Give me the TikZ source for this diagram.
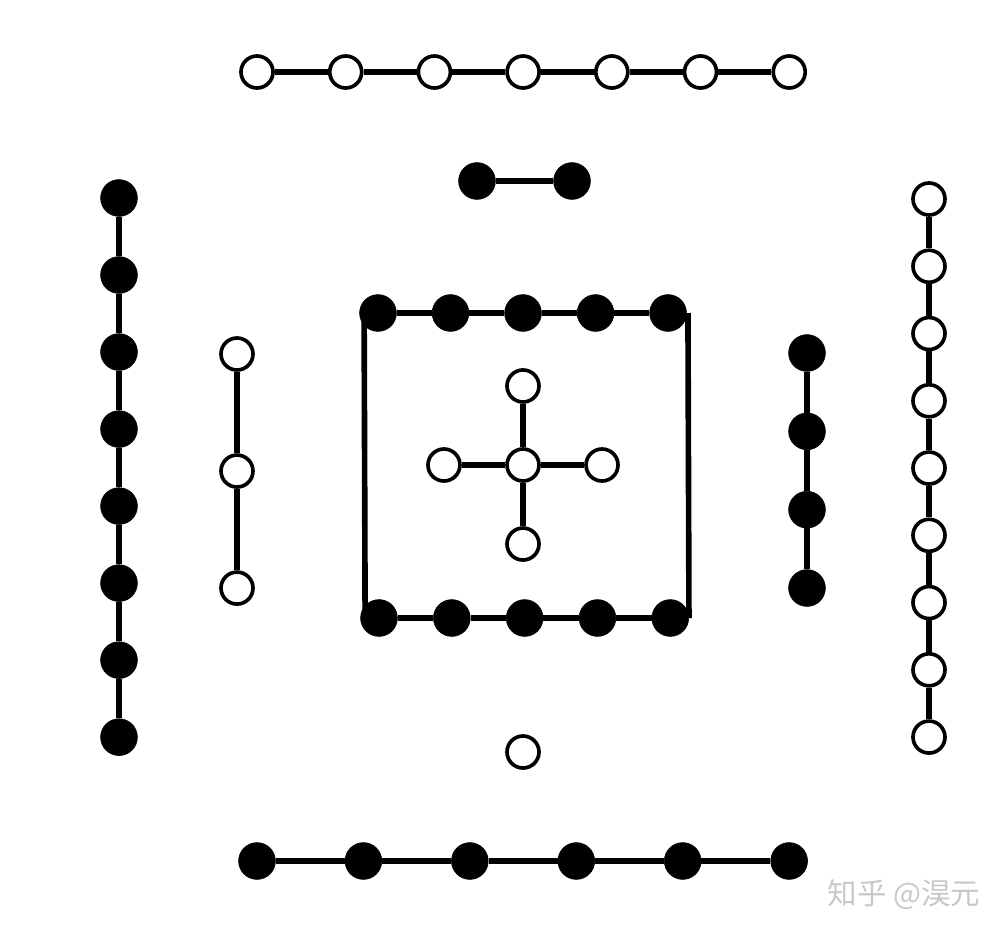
\documentclass[tikz,border=0pt]{standalone}
\usepackage{fontspec}
\usepackage{tikz}
\usetikzlibrary{calc, positioning}
\newfontfamily\zhfont{Noto Sans CJK SC}
\definecolor{mark}{RGB}{200,200,200}
\tikzstyle{yang}=[circle, draw, line width=2.6pt, fill=white, minimum size=0.8cm, inner sep=0pt]
\tikzstyle{yin}=[circle, draw, line width=0.4pt, fill=black, minimum size=0.92cm, inner sep=0pt]
\tikzstyle{link}=[line width=4pt]

\begin{document}
\begin{tikzpicture}[x=0.025cm,y=-0.025cm]
        \useasboundingbox (0,0) rectangle (1008,936);
        % top: seven white, two black
        \node [yang] (seven1) at (257,72) {};
        \node [yang] (seven2) [right of=seven1, node distance=2.217cm] {};
        \node [yang] (seven3) [right of=seven2, node distance=2.217cm] {};
        \node [yang] (seven4) [right of=seven3, node distance=2.217cm] {};
        \node [yang] (seven5) [right of=seven4, node distance=2.217cm] {};
        \node [yang] (seven6) [right of=seven5, node distance=2.217cm] {};
        \node [yang] (seven7) [right of=seven6, node distance=2.217cm] {};
        \node [yin] (two1) at (477,181) {};
        \node [yin] (two2) [right of=two1, node distance=2.375cm] {};
        \draw[link] (seven1) -- (seven2) -- (seven3) -- (seven4) -- (seven5) -- (seven6) -- (seven7);
        \draw[link] (two1) -- (two2);
        % left: eight black, three white
        \node [yin] (eight1) at (119,198) {};
        \node [yin] (eight2) [below of=eight1, node distance=1.925cm] {};
        \node [yin] (eight3) [below of=eight2, node distance=1.925cm] {};
        \node [yin] (eight4) [below of=eight3, node distance=1.925cm] {};
        \node [yin] (eight5) [below of=eight4, node distance=1.925cm] {};
        \node [yin] (eight6) [below of=eight5, node distance=1.925cm] {};
        \node [yin] (eight7) [below of=eight6, node distance=1.925cm] {};
        \node [yin] (eight8) [below of=eight7, node distance=1.925cm] {};
        \node [yang] (three1) at (237,354) {};
        \node [yang] (three2) [below of=three1, node distance=2.925cm] {};
        \node [yang] (three3) [below of=three2, node distance=2.925cm] {};
        \draw[link] (eight1) -- (eight2) -- (eight3) -- (eight4) -- (eight5) -- (eight6) -- (eight7) -- (eight8);
        \draw[link] (three1) -- (three2) -- (three3);
        % right: four black, nine white
        \node [yin] (four1) at (807,353) {};
        \node [yin] (four2) [below of=four1, node distance=1.958cm] {};
        \node [yin] (four3) [below of=four2, node distance=1.958cm] {};
        \node [yin] (four4) [below of=four3, node distance=1.958cm] {};
        \node [yang] (nine1) at (929,199) {};
        \node [yang] (nine2) [below of=nine1, node distance=1.681cm] {};
        \node [yang] (nine3) [below of=nine2, node distance=1.681cm] {};
        \node [yang] (nine4) [below of=nine3, node distance=1.681cm] {};
        \node [yang] (nine5) [below of=nine4, node distance=1.681cm] {};
        \node [yang] (nine6) [below of=nine5, node distance=1.681cm] {};
        \node [yang] (nine7) [below of=nine6, node distance=1.681cm] {};
        \node [yang] (nine8) [below of=nine7, node distance=1.681cm] {};
        \node [yang] (nine9) [below of=nine8, node distance=1.681cm] {};
        \draw[link] (four1) -- (four2) -- (four3) -- (four4);
        \draw[link] (nine1) -- (nine2) -- (nine3) -- (nine4) -- (nine5) -- (nine6) -- (nine7) -- (nine8) -- (nine9);
        % centre: five white, ten black
        \node [yang] (five) at (523,465) {};
        \node [yang] (fiveN) [above of=five, node distance=1.975cm] {};
        \node [yang] (fiveS) [below of=five, node distance=1.975cm] {};
        \node [yang] (fiveW) [left of=five, node distance=1.975cm] {};
        \node [yang] (fiveE) [right of=five, node distance=1.975cm] {};
        \draw[link] (fiveN) -- (five) -- (fiveS);
        \draw[link] (fiveW) -- (five) -- (fiveE);
        \node [yin] (tenA1) at (378,313) {};
        \node [yin] (tenA2) [right of=tenA1, node distance=1.8125cm] {};
        \node [yin] (tenA3) [right of=tenA2, node distance=1.8125cm] {};
        \node [yin] (tenA4) [right of=tenA3, node distance=1.8125cm] {};
        \node [yin] (tenA5) [right of=tenA4, node distance=1.8125cm] {};
        \node [yin] (tenB1) at (379,618) {};
        \node [yin] (tenB2) [right of=tenB1, node distance=1.82cm] {};
        \node [yin] (tenB3) [right of=tenB2, node distance=1.82cm] {};
        \node [yin] (tenB4) [right of=tenB3, node distance=1.82cm] {};
        \node [yin] (tenB5) [right of=tenB4, node distance=1.82cm] {};
        \draw[link] (tenA1) -- (tenA2) -- (tenA3) -- (tenA4) -- (tenA5);
        \draw[link] (tenB1) -- (tenB2) -- (tenB3) -- (tenB4) -- (tenB5);
        \draw[link] ([xshift=0.12cm]tenA1.west) -- ([xshift=0.12cm]tenB1.west);
        \draw[link] ([xshift=0.03cm]tenA5.east) -- (tenB5.east);
        % bottom: one white, six black
        \node [yang] (one) at (523,752) {};
        \node [yin] (six1) at (257,861) {};
        \node [yin] (six2) [right of=six1, node distance=2.66cm] {};
        \node [yin] (six3) [right of=six2, node distance=2.66cm] {};
        \node [yin] (six4) [right of=six3, node distance=2.66cm] {};
        \node [yin] (six5) [right of=six4, node distance=2.66cm] {};
        \node [yin] (six6) [right of=six5, node distance=2.66cm] {};
        \draw[link] (six1) -- (six2) -- (six3) -- (six4) -- (six5) -- (six6);
        \node [text=mark, font=\zhfont\fontsize{21}{23}\selectfont] (wm) at (904,895) {知乎 @淏元};
    \end{tikzpicture}
\end{document}
